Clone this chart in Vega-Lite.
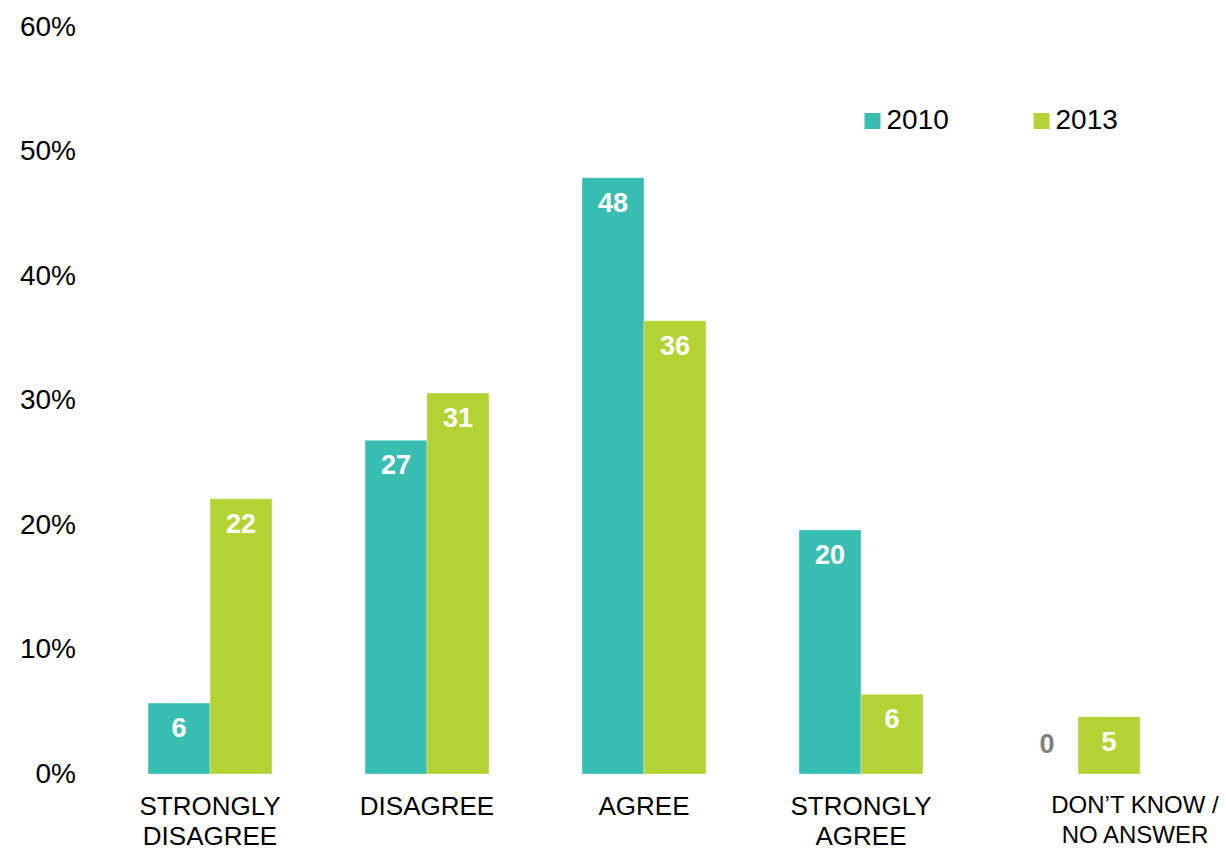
{
  "$schema": "https://vega.github.io/schema/vega-lite/v6.json",
  "autosize": {"type": "none"},
  "width": 1085,
  "height": 747,
  "padding": {"left": 101.5, "top": 27, "right": 39.5, "bottom": 81},
  "background": "white",
  "config": {
    "view": {"stroke": null},
    "font": "Liberation Sans"
  },
  "data": {
    "values": [
      {"cat": "STRONGLY|DISAGREE", "year": "2010", "value": 5.7},
      {"cat": "STRONGLY|DISAGREE", "year": "2013", "value": 22.1},
      {"cat": "DISAGREE", "year": "2010", "value": 26.8},
      {"cat": "DISAGREE", "year": "2013", "value": 30.6},
      {"cat": "AGREE", "year": "2010", "value": 47.9},
      {"cat": "AGREE", "year": "2013", "value": 36.4},
      {"cat": "STRONGLY|AGREE", "year": "2010", "value": 19.6},
      {"cat": "STRONGLY|AGREE", "year": "2013", "value": 6.4},
      {"cat": "DON’T KNOW /|NO ANSWER", "year": "2010", "value": 0},
      {"cat": "DON’T KNOW /|NO ANSWER", "year": "2013", "value": 4.6}
    ]
  },
  "encoding": {
    "x": {
      "field": "cat",
      "type": "nominal",
      "sort": null,
      "scale": {"paddingInner": 0.4286, "paddingOuter": 0.2143},
      "axis": {
        "title": null,
        "domain": false,
        "ticks": false,
        "labelAngle": 0,
        "labelExpr": "split(datum.label, '|')",
        "labelFontSize": {"condition": {"test": "indexof(datum.value, 'KNOW') >= 0", "value": 24}, "value": 26},
        "labelColor": "#000000",
        "labelLineHeight": 30,
        "labelPadding": 19,
        "labelLimit": 300,
        "labelOffset": {"condition": {"test": "indexof(datum.value, 'KNOW') >= 0", "value": 57}, "value": 0}
      }
    },
    "xOffset": {"field": "year", "type": "nominal", "scale": {"paddingInner": 0, "paddingOuter": 0}},
    "y": {
      "field": "value",
      "type": "quantitative",
      "scale": {"domain": [0, 60], "nice": false, "zero": true},
      "axis": {
        "title": null,
        "domain": false,
        "ticks": false,
        "grid": false,
        "values": [0, 10, 20, 30, 40, 50, 60],
        "labelExpr": "datum.value + '%'",
        "labelFontSize": 28,
        "labelColor": "#000000",
        "labelPadding": 26
      }
    }
  },
  "layer": [
    {
      "mark": {"type": "bar", "stroke": "#ffffff", "strokeOpacity": 0.35, "strokeWidth": 1},
      "encoding": {
        "color": {
          "field": "year",
          "type": "nominal",
          "scale": {"domain": ["2010", "2013"], "range": ["#38BEB0", "#B3D335"]},
          "legend": {
            "title": null,
            "orient": "none",
            "direction": "horizontal",
            "legendX": 757,
            "legendY": 80,
            "symbolType": "square",
            "symbolSize": 256,
            "symbolStrokeWidth": 0,
            "labelFontSize": 28,
            "labelColor": "#000000",
            "labelOffset": 0,
            "columnPadding": 78,
            "padding": 0
          }
        }
      }
    },
    {
      "transform": [{"filter": "datum.value > 0"}],
      "mark": {"type": "text", "baseline": "middle", "align": "center", "dy": 26, "fontSize": 27, "fontWeight": "bold", "color": "#ffffff"},
      "encoding": {"text": {"field": "value", "type": "quantitative", "format": ".0f"}}
    },
    {
      "transform": [{"filter": "datum.value == 0"}],
      "mark": {"type": "text", "baseline": "middle", "align": "center", "dy": -29, "fontSize": 27, "fontWeight": "bold", "color": "#808080"},
      "encoding": {"text": {"field": "value", "type": "quantitative", "format": ".0f"}}
    }
  ]
}
